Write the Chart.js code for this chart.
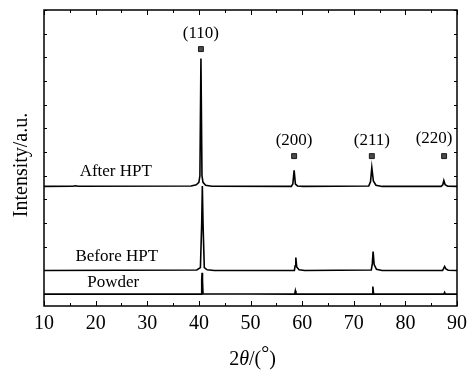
<!DOCTYPE html>
<html>
<head>
<meta charset="utf-8">
<script src="https://cdn.jsdelivr.net/npm/chart.js@4.4.1/dist/chart.umd.min.js"></script>
<style>
  html, body { margin: 0; padding: 0; background: #fff; }
  #wrap { width: 473px; height: 374px; }
</style>
</head>
<body>
<div id="wrap"><canvas id="xrd" width="473" height="374"></canvas></div>
<script>
// 2theta (deg) and stacked intensity (a.u.) for each pattern
const thetaAfter = [10, 15.6, 16.1, 16.6, 38.5, 39.5, 40.0, 40.2, 40.4, 40.6, 40.8, 41.3, 42.5, 57.9, 58.2, 58.45, 58.7, 59.1, 60.2, 72.9, 73.25, 73.5, 73.8, 74.3, 75.5, 86.9, 87.25, 87.45, 87.7, 88.2, 90];
const intAfter   = [4.55, 4.56, 4.58, 4.56, 4.57, 4.62, 4.72, 5.0, 9.95, 5.0, 4.72, 4.6, 4.56, 4.55, 4.65, 5.23, 4.65, 4.57, 4.55, 4.57, 4.75, 5.35, 4.78, 4.6, 4.55, 4.55, 4.62, 4.8, 4.62, 4.56, 4.55];

const thetaBefore = [10, 39.6, 40.3, 40.55, 40.67, 40.8, 41.05, 41.6, 43, 58.5, 58.65, 58.78, 58.95, 59.4, 60.5, 73.4, 73.6, 73.75, 73.95, 74.4, 75.5, 87.2, 87.4, 87.6, 87.85, 88.3, 90];
const intBefore   = [1.0, 1.02, 1.12, 3.0, 4.57, 3.0, 1.12, 1.03, 1.0, 1.0, 1.2, 1.55, 1.15, 1.03, 1.0, 1.02, 1.3, 1.8, 1.25, 1.05, 1.0, 1.0, 1.08, 1.17, 1.07, 1.01, 1.0];

const thetaPowder = [10, 40.45, 40.55, 40.62, 40.7, 40.8, 58.55, 58.68, 58.8, 73.55, 73.7, 73.85, 87.45, 87.6, 87.75, 90];
const intPowder   = [0, 0, 0.6, 0.9, 0.6, 0.02, 0, 0.14, 0, 0, 0.32, 0, 0, 0.07, 0, 0];

// reflection markers
const hkl = ['(110)', '(200)', '(211)', '(220)'];
const markerTheta = [40.4, 58.45, 73.5, 87.5];
const markerInt = [10.35, 5.83, 5.83, 5.83];

// pattern names and where they are written (theta, intensity)
const seriesNames = ['After HPT', 'Before HPT', 'Powder'];
const nameTheta = [23.9, 24.1, 23.4];
const nameInt = [5.16, 1.61, 0.47];

const xTicks = [10, 20, 30, 40, 50, 60, 70, 80, 90];

const serif = '"Liberation Serif", "Times New Roman", serif';

function pts(xs, ys) {
  return xs.map((x, i) => ({ x: x, y: ys[i] }));
}

const lineStyle = {
  type: 'line',
  borderColor: '#000',
  borderWidth: 1.6,
  pointRadius: 0,
  tension: 0,
  fill: false
};

// frame, inward ticks and all the text labels
const decorations = {
  id: 'decorations',
  afterDraw(chart) {
    const ctx = chart.ctx;
    const a = chart.chartArea;
    const xs = chart.scales.x;
    const ys = chart.scales.y;
    ctx.save();
    ctx.strokeStyle = '#000';
    ctx.lineWidth = 1.5;
    ctx.strokeRect(a.left, a.top, a.right - a.left, a.bottom - a.top);

    ctx.lineWidth = 1;
    ctx.beginPath();
    for (let v = 10; v <= 90; v += 5) {
      const px = Math.round(xs.getPixelForValue(v)) + 0.5;
      const len = v % 10 === 0 ? 5 : 3;
      ctx.moveTo(px, a.bottom); ctx.lineTo(px, a.bottom - len);
      ctx.moveTo(px, a.top); ctx.lineTo(px, a.top + len);
    }
    for (let v = 0; v <= 12; v++) {
      const py = Math.round(ys.getPixelForValue(v)) + 0.5;
      ctx.moveTo(a.left, py); ctx.lineTo(a.left + 3, py);
      ctx.moveTo(a.right, py); ctx.lineTo(a.right - 3, py);
    }
    ctx.stroke();

    ctx.fillStyle = '#000';
    ctx.textAlign = 'center';
    ctx.textBaseline = 'middle';

    // reflection labels above the markers
    ctx.font = '17px ' + serif;
    hkl.forEach((t, i) => {
      const px = xs.getPixelForValue(markerTheta[i]) + (i === 3 ? -10 : 0);
      const py = ys.getPixelForValue(markerInt[i]) - (i === 3 ? 18 : 16);
      ctx.fillText(t, px, py);
    });

    // pattern names
    seriesNames.forEach((t, i) => {
      ctx.fillText(t, xs.getPixelForValue(nameTheta[i]), ys.getPixelForValue(nameInt[i]));
    });

    // y title
    ctx.save();
    ctx.translate(22, 165);
    ctx.rotate(-Math.PI / 2);
    ctx.font = '20px ' + serif;
    ctx.fillText('Intensity/a.u.', 0, 0);
    ctx.restore();

    // x title: 2θ/(°) with italic theta
    const parts = [
      { t: '2', f: '20px ' + serif },
      { t: 'θ', f: 'italic 20px ' + serif },
      { t: '/(', f: '20px ' + serif },
      { t: '°', f: '20px ' + serif, dy: -5 },
      { t: ')', f: '20px ' + serif }
    ];
    let total = 0;
    parts.forEach(p => { ctx.font = p.f; p.w = ctx.measureText(p.t).width; total += p.w; });
    let x = (a.left + a.right) / 2 - total / 2 + 2;
    ctx.textAlign = 'left';
    parts.forEach(p => {
      ctx.font = p.f;
      ctx.fillText(p.t, x, 360 + (p.dy || 0));
      x += p.w;
    });
    ctx.restore();
  }
};

new Chart(document.getElementById('xrd'), {
  data: {
    datasets: [
      Object.assign({ label: seriesNames[0], data: pts(thetaAfter, intAfter) }, lineStyle),
      Object.assign({ label: seriesNames[1], data: pts(thetaBefore, intBefore) }, lineStyle),
      Object.assign({ label: seriesNames[2], data: pts(thetaPowder, intPowder) }, lineStyle),
      {
        type: 'scatter',
        label: 'markers',
        data: pts(markerTheta, markerInt),
        pointStyle: 'rect',
        pointRadius: 3.5,
        backgroundColor: '#4a4a4a',
        borderColor: '#1a1a1a',
        borderWidth: 1
      }
    ]
  },
  options: {
    responsive: false,
    animation: false,
    layout: { padding: { top: 10, right: 16, left: 0, bottom: 0 } },
    plugins: {
      legend: { display: false },
      tooltip: { enabled: false }
    },
    scales: {
      x: {
        type: 'linear',
        min: 10,
        max: 90,
        afterFit(scale) { scale.height = 68; },
        afterBuildTicks(scale) { scale.ticks = xTicks.map(v => ({ value: v })); },
        grid: { display: false, drawTicks: false },
        border: { display: false },
        ticks: {
          color: '#000',
          padding: 6,
          maxRotation: 0,
          font: { family: serif, size: 20 }
        }
      },
      y: {
        type: 'linear',
        min: -0.5,
        max: 12,
        afterFit(scale) { scale.width = 44; },
        grid: { display: false, drawTicks: false },
        border: { display: false },
        ticks: { display: false }
      }
    }
  },
  plugins: [decorations]
});
</script>
</body>
</html>
